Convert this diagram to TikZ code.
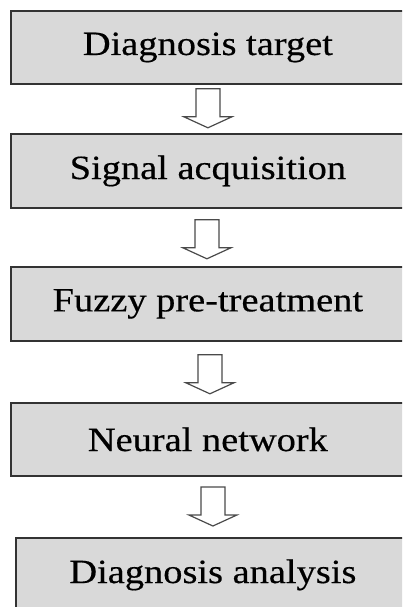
\documentclass[tikz,border=0pt]{standalone}
\usepackage{fontspec}
\setmainfont{Liberation Serif}[FakeStretch=1.13, FakeBold=0.4]
\usetikzlibrary{calc}

\definecolor{boxfill}{HTML}{D9D9D9}
\definecolor{boxline}{HTML}{333333}
\definecolor{arrowline}{HTML}{4A4A4A}

\tikzset{
  stage/.style={draw=boxline, line width=1.8pt, fill=boxfill,
    minimum width=394pt, anchor=north west, inner sep=0pt,
    font=\fontsize{34}{39}\selectfont, text=black},
  flowarrow/.pic={
    \draw[arrowline, line width=1.2pt, line join=miter, fill=white]
      (-12,0) -- (-12,28) -- (-24,28) -- (0,39) -- (24,28) -- (12,28) -- (12,0) -- cycle;
  }
}

\begin{document}
\begin{tikzpicture}[x=1pt, y=-1pt]
  \clip (0,0) rectangle (402,607);
  \fill[white] (0,0) rectangle (402,607);

  % process stages
  \node[stage, minimum height=73pt] (b1) at (10,10)  {Diagnosis target};
  \node[stage, minimum height=74pt] (b2) at (10,133) {Signal acquisition};
  \node[stage, minimum height=74pt] (b3) at (10,266) {Fuzzy pre-treatment};
  \node[stage, minimum height=73pt] (b4) at (10,402) {Neural network};
  \node[stage, minimum height=74pt] (b5) at (15,537) {Diagnosis analysis};

  % hollow arrows between consecutive stages
  \pic at ($(b1.south)+(0,4)$)   {flowarrow};
  \pic at ($(b2.south)+(-1,11)$) {flowarrow};
  \pic at ($(b3.south)+(2,13)$)  {flowarrow};
  \pic at ($(b5.north)+(0,-50)$) {flowarrow};
\end{tikzpicture}
\end{document}
